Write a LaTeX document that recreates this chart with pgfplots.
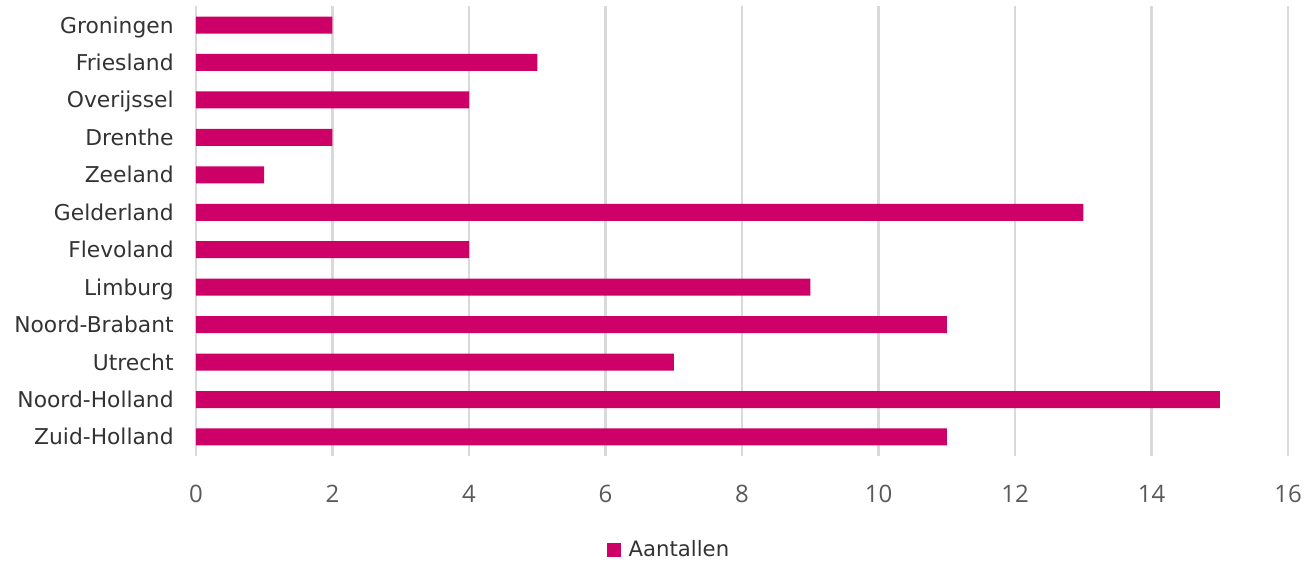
\documentclass[border=0pt]{standalone}
\usepackage{fontspec}
\setmainfont{DejaVu Sans}
\newfontfamily\tickfont{Open Sans}
\usepackage{pgfplots}
\pgfplotsset{compat=1.18}
\definecolor{barc}{HTML}{CC0066}
\definecolor{gridc}{HTML}{D9D9D9}
\definecolor{labc}{HTML}{333333}
\definecolor{tickc}{HTML}{595959}
\begin{document}
\begin{tikzpicture}
\begin{axis}[
  at={(0,0)}, anchor=south west,
  scale only axis, width=546pt, height=224.7pt,
  xbar, bar width=8.5pt,
  xmin=0, xmax=16, ymin=-0.5, ymax=11.5,
  xtick={0,2,...,16},
  ytick={0,...,11},
  yticklabels={Zuid-Holland,Noord-Holland,Utrecht,Noord-Brabant,Limburg,Flevoland,Gelderland,Zeeland,Drenthe,Overijssel,Friesland,Groningen},
  axis line style={draw=none},
  major tick length=0pt,
  xmajorgrids, grid style={gridc, line width=1.1pt},
  /pgf/number format/assume math mode=true,
  xticklabel style={font=\tickfont\fontsize{12}{14}\selectfont, text=tickc, anchor=base, yshift=-23.15pt},
  yticklabel style={font=\fontsize{10.9}{12}\selectfont, text=labc, anchor=base east, inner sep=0pt, xshift=-11pt, yshift=-4pt},
  legend style={at={(0.434,-0.21)}, anchor=center, draw=none, fill=none, font=\fontsize{10.6}{12}\selectfont, text=labc},
  legend image code/.code={\fill[barc] (0pt,-3.5pt) rectangle (7pt,3.5pt); \path (9pt,0pt);},
]
\draw[gridc, line width=1.1pt] (axis cs:0,-0.5) -- (axis cs:0,11.5);
\addplot[fill=barc, draw=none] coordinates {
  (11,0) (15,1) (7,2) (11,3) (9,4) (4,5) (13,6) (1,7) (2,8) (4,9) (5,10) (2,11)
};
\addlegendentry{Aantallen}
\end{axis}
\pgfresetboundingbox
\path (-98pt,-53.65pt) rectangle (555pt,227.85pt);
\end{tikzpicture}
\end{document}
